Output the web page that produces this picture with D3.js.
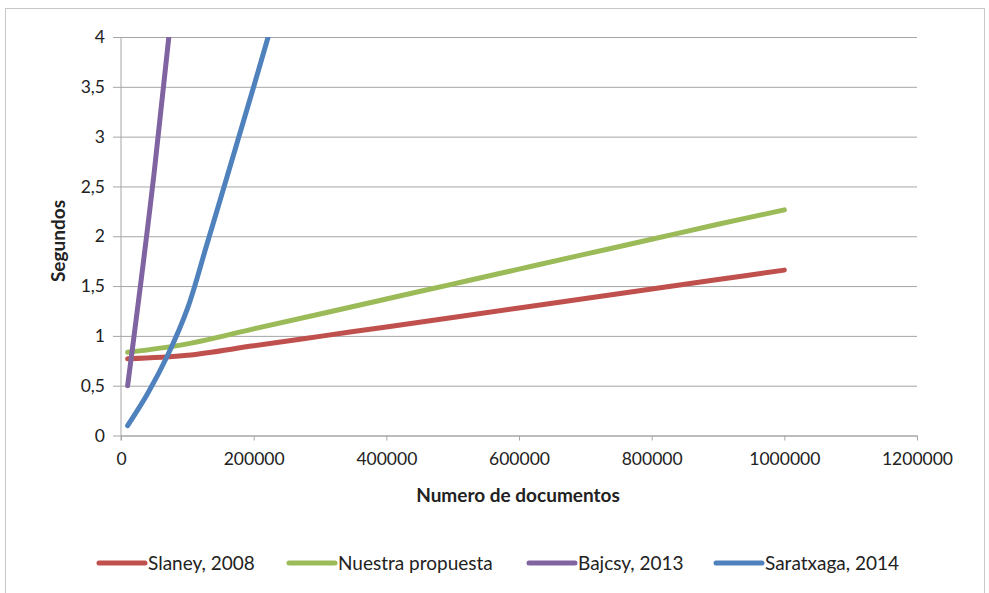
<!DOCTYPE html>
<html>
<head>
<meta charset="utf-8">
<script src="https://cdn.jsdelivr.net/npm/d3@7"></script>
<style>
  html, body { margin: 0; padding: 0; background: #fff; }
  svg { display: block; }
  text { font-family: Lato, "Open Sans", sans-serif; fill: #222; }
</style>
</head>
<body>
<svg id="chart" width="989" height="593"></svg>
<script>
// ---- Data ----
const seriesNames = ["Slaney, 2008", "Nuestra propuesta", "Bajcsy, 2013", "Saratxaga, 2014"];
const seriesColors = ["#C0504D", "#9BBB59", "#8064A2", "#4F81BD"];

const slaneyX = [10000, 100000, 200000, 300000, 400000, 500000, 600000, 700000, 800000, 900000, 1000000];
const slaneyY = [0.77, 0.805, 0.90, 0.995, 1.09, 1.185, 1.28, 1.375, 1.47, 1.565, 1.66];

const propuestaX = [10000, 100000, 200000, 300000, 400000, 500000, 600000, 700000, 800000, 900000, 1000000];
const propuestaY = [0.835, 0.92, 1.07, 1.22, 1.37, 1.52, 1.67, 1.82, 1.97, 2.12, 2.265];

const bajcsyX = [10000, 50000, 100000];
const bajcsyY = [0.5, 2.64, 5.8];

const saratxagaX = [10000, 40000, 70000, 100000, 130000, 160000, 200000, 250000];
const saratxagaY = [0.1, 0.42, 0.8, 1.27, 1.93, 2.6, 3.5, 4.65];

const xTicks = [0, 200000, 400000, 600000, 800000, 1000000, 1200000];
const yTicks = [0, 0.5, 1, 1.5, 2, 2.5, 3, 3.5, 4];
const xTitle = "Numero de documentos";
const yTitle = "Segundos";

// ---- Layout ----
const svg = d3.select("#chart");
const pLeft = 121, pRight = 917, pTop = 37, pBottom = 435.5;

const x = d3.scaleLinear().domain([0, 1200000]).range([pLeft, pRight]);
const y = d3.scaleLinear().domain([0, 4]).range([pBottom, pTop]);

// chart border
svg.append("rect")
  .attr("x", 5.5).attr("y", 8.5).attr("width", 979).attr("height", 600)
  .attr("fill", "#fff").attr("stroke", "#c8c8c8").attr("stroke-width", 1);

const fmtY = v => String(v).replace(".", ",");

// gridlines + y ticks
const yAxis = d3.axisLeft(y).tickValues(yTicks).tickFormat(fmtY)
  .tickSize(-(pRight - pLeft)).tickPadding(10);
const gy = svg.append("g").attr("transform", `translate(${pLeft},0)`).call(yAxis);
gy.select(".domain").remove();
gy.selectAll(".tick line").attr("stroke", "#a6a6a6").attr("x1", -8).attr("stroke-width", 1);
gy.selectAll(".tick text").attr("font-size", 17.5).attr("fill", "#222").attr("x", -16)
  .style("font-family", "Lato, sans-serif");

// x axis
const xAxis = d3.axisBottom(x).tickValues(xTicks).tickFormat(d3.format("d"))
  .tickSize(5).tickPadding(12);
const gx = svg.append("g").attr("transform", `translate(0,${pBottom})`).call(xAxis);
gx.select(".domain").attr("stroke", "#a6a6a6").attr("d", `M${pLeft},0.5H${pRight}`);
gx.selectAll(".tick line").attr("stroke", "#a6a6a6");
gx.selectAll(".tick text").attr("font-size", 17.5).attr("fill", "#222")
  .style("font-family", "Lato, sans-serif");

// y axis line
svg.append("line").attr("x1", pLeft).attr("x2", pLeft).attr("y1", pTop).attr("y2", pBottom + 5)
  .attr("stroke", "#a6a6a6");

// clip
svg.append("clipPath").attr("id", "plotclip").append("rect")
  .attr("x", pLeft - 10).attr("y", pTop).attr("width", pRight - pLeft + 20).attr("height", pBottom - pTop + 10);

const series = [
  { xs: slaneyX, ys: slaneyY },
  { xs: propuestaX, ys: propuestaY },
  { xs: bajcsyX, ys: bajcsyY },
  { xs: saratxagaX, ys: saratxagaY }
];

const line = d3.line().x(d => x(d[0])).y(d => y(d[1])).curve(d3.curveCatmullRom.alpha(0.5));
const gLines = svg.append("g").attr("clip-path", "url(#plotclip)");
series.forEach((s, i) => {
  const pts = s.xs.map((xv, j) => [xv, s.ys[j]]);
  gLines.append("path").datum(pts).attr("d", line)
    .attr("fill", "none").attr("stroke", seriesColors[i]).attr("stroke-width", 5)
    .attr("stroke-linecap", "round").attr("stroke-linejoin", "round");
});

// axis titles
svg.append("text").attr("x", 518).attr("y", 502).attr("text-anchor", "middle")
  .attr("font-size", 19).attr("font-weight", "bold").text(xTitle);
svg.append("text").attr("transform", "translate(65,241) rotate(-90)").attr("text-anchor", "middle")
  .attr("font-size", 19).attr("font-weight", "bold").text(yTitle);

// legend
const legendX = [97, 287, 527, 714];
const lg = svg.append("g");
seriesNames.forEach((n, i) => {
  lg.append("line").attr("x1", legendX[i] + 2).attr("x2", legendX[i] + 48)
    .attr("y1", 563).attr("y2", 563)
    .attr("stroke", seriesColors[i]).attr("stroke-width", 5).attr("stroke-linecap", "round");
  lg.append("text").attr("x", legendX[i] + 51).attr("y", 570)
    .attr("font-size", 19).text(n);
});
</script>
</body>
</html>
